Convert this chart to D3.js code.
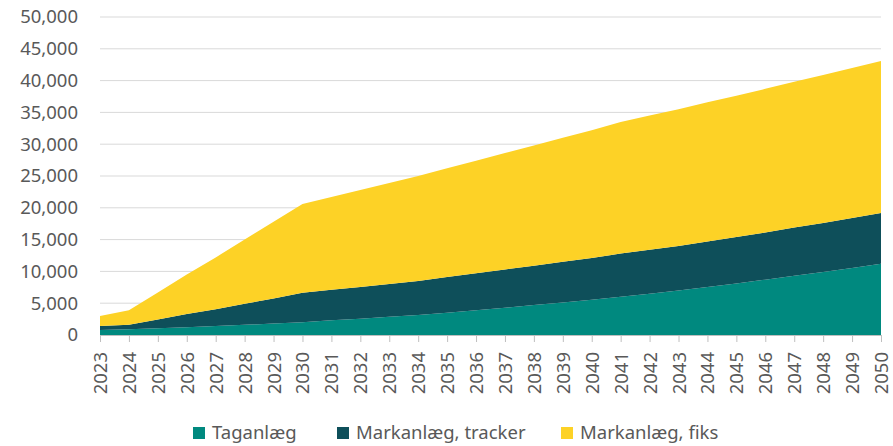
<!DOCTYPE html>
<html>
<head>
<meta charset="utf-8">
<script src="https://cdn.jsdelivr.net/npm/d3@7"></script>
<style>
  body { margin: 0; background: #fff; }
  .axis text { font-family: "Noto Sans", sans-serif; fill: #595959; }
  .legend text { font-family: "Noto Sans", sans-serif; fill: #595959; }
</style>
</head>
<body>
<div id="chart"></div>
<script>

// Years on the x axis
var years = d3.range(2023, 2051);

// Cumulative levels (MW), top edge of each stacked band
var taganlaeg = [800, 900, 1050, 1200, 1400, 1600, 1800, 2000, 2300, 2550, 2850, 3150, 3500, 3900,
                 4300, 4700, 5100, 5550, 6000, 6500, 7000, 7550, 8100, 8700, 9300, 9900, 10550, 11200];
var trackerTop = [1400, 1600, 2450, 3300, 4050, 4900, 5750, 6650, 7100, 7550, 8000, 8500, 9100, 9700,
                  10300, 10900, 11500, 12100, 12800, 13400, 14000, 14700, 15400, 16100, 16900, 17600, 18400, 19200];
var totalTop = [3000, 3900, 6700, 9500, 12200, 15000, 17800, 20600, 21700, 22800, 23900, 25000, 26200, 27400,
                28600, 29800, 31000, 32200, 33500, 34500, 35500, 36600, 37600, 38700, 39800, 40900, 42000, 43100];

var seriesNames = ["Taganlæg", "Markanlæg, tracker", "Markanlæg, fiks"];
var seriesColors = ["#00897f", "#0e4f5a", "#fdd226"];
var yTicks = [0, 5000, 10000, 15000, 20000, 25000, 30000, 35000, 40000, 45000, 50000];

// build rows for d3.stack (band sizes)
var rows = years.map(function(y, i) {
    return {
        year: y,
        "Taganlæg": taganlaeg[i],
        "Markanlæg, tracker": trackerTop[i] - taganlaeg[i],
        "Markanlæg, fiks": totalTop[i] - trackerTop[i]
    };
});

var width = 893, height = 446;
var margin = {top: 17, right: 12, bottom: 111, left: 100};
var innerW = width - margin.left - margin.right,
    innerH = height - margin.top - margin.bottom;

var svg = d3.select("#chart").append("svg")
    .attr("width", width)
    .attr("height", height);

var g = svg.append("g")
    .attr("transform", "translate(" + margin.left + "," + margin.top + ")");

var x = d3.scaleLinear()
    .domain([2023, 2050])
    .range([0, innerW]);
var y = d3.scaleLinear()
    .domain([0, 50000])
    .range([innerH, 0]);

// gridlines
g.append("g")
    .selectAll("line")
    .data(yTicks.slice(1))
    .enter().append("line")
    .attr("x1", 0)
    .attr("x2", innerW)
    .attr("y1", function(d) { return y(d); })
    .attr("y2", function(d) { return y(d); })
    .attr("stroke", "#d9d9d9")
    .attr("stroke-width", 1);

// stacked areas
var stack = d3.stack().keys(seriesNames);
var layers = stack(rows);

var area = d3.area()
    .x(function(d) { return x(d.data.year); })
    .y0(function(d) { return y(d[0]); })
    .y1(function(d) { return y(d[1]); });

g.selectAll(".layer")
    .data(layers)
    .enter().append("path")
    .attr("class", "layer")
    .attr("fill", function(d, i) { return seriesColors[i]; })
    .attr("d", area);

// y axis (labels only)
var yAxis = d3.axisLeft(y)
    .tickValues(yTicks)
    .tickSize(0)
    .tickPadding(22)
    .tickFormat(d3.format(","));
var yg = g.append("g").attr("class", "axis").call(yAxis);
yg.select(".domain").remove();
yg.selectAll("text").style("font-size", "18.5px");

// x axis
var xAxis = d3.axisBottom(x)
    .tickValues(years)
    .tickSize(7)
    .tickSizeOuter(0)
    .tickFormat(d3.format("d"));
var xg = g.append("g")
    .attr("class", "axis")
    .attr("transform", "translate(0," + innerH + ")")
    .call(xAxis);
xg.select(".domain").attr("stroke", "#bfbfbf");
xg.selectAll(".tick line").attr("stroke", "#bfbfbf");
xg.selectAll("text")
    .style("font-size", "18.5px")
    .attr("transform", "rotate(-90)")
    .attr("text-anchor", "end")
    .attr("x", -17)
    .attr("y", 0)
    .attr("dy", "0.35em");

// legend
var legendX = [193, 337, 561];
var legend = svg.append("g").attr("class", "legend");
seriesNames.forEach(function(name, i) {
    legend.append("rect")
        .attr("x", legendX[i])
        .attr("y", 427)
        .attr("width", 12)
        .attr("height", 12)
        .attr("fill", seriesColors[i]);
    legend.append("text")
        .attr("x", legendX[i] + 19)
        .attr("y", 439)
        .style("font-size", "18.5px")
        .text(name);
});

</script>
</body>
</html>
